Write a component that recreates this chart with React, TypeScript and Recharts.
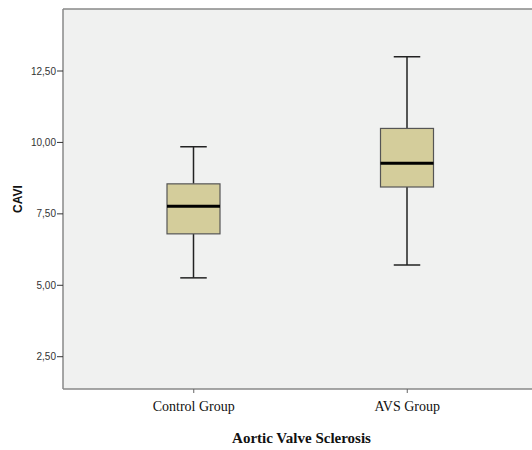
import React from 'react'
import { Bar, CartesianGrid, ComposedChart, Label, ReferenceLine, XAxis, YAxis } from 'recharts'

const groups = ['Control Group', 'AVS Group']
const minVals = [5.26, 5.71]
const q1Vals = [6.8, 8.44]
const medianVals = [7.77, 9.27]
const q3Vals = [8.55, 10.49]
const maxVals = [9.85, 13.0]
const yTicks = [2.5, 5, 7.5, 10, 12.5]

const data = groups.map((g, i) => ({
  name: g,
  min: minVals[i],
  q1: q1Vals[i],
  median: medianVals[i],
  q3: q3Vals[i],
  max: maxVals[i],
  box: [q1Vals[i], q3Vals[i]],
}))

const BoxShape = (props: any) => {
  const { x, y, width, height, payload } = props
  const ppu = height / (payload.q3 - payload.q1)
  const toY = (v: number) => y + (payload.q3 - v) * ppu
  const cx = x + width / 2
  const cap = width / 4
  return (
    <g>
      <line x1={cx} x2={cx} y1={toY(payload.max)} y2={y} stroke="#222" strokeWidth={1.5} />
      <line x1={cx} x2={cx} y1={y + height} y2={toY(payload.min)} stroke="#222" strokeWidth={1.5} />
      <line x1={cx - cap} x2={cx + cap} y1={toY(payload.max)} y2={toY(payload.max)} stroke="#222" strokeWidth={1.5} />
      <line x1={cx - cap} x2={cx + cap} y1={toY(payload.min)} y2={toY(payload.min)} stroke="#222" strokeWidth={1.5} />
      <rect x={x} y={y} width={width} height={height} fill="#d4cd9b" stroke="#555" strokeWidth={1.2} />
      <line x1={x} x2={x + width} y1={toY(payload.median)} y2={toY(payload.median)} stroke="#000" strokeWidth={3} />
    </g>
  )
}

const App: React.FC = () => {
  return (
    <div style={{ position: 'absolute', left: 0, top: 0, width: 532, height: 450, overflow: 'hidden', background: '#fff' }}>
      <ComposedChart width={540} height={450} data={data} margin={{ top: 9, right: 0, bottom: 0, left: 0 }}>
        <CartesianGrid fill="#f0f1f0" horizontal={false} vertical={false} />
        <ReferenceLine y={14.67} stroke="#888" strokeWidth={1.5} />
        <XAxis
          dataKey="name"
          height={61}
          padding={{ left: 24, right: 26 }}
          axisLine={{ stroke: '#888', strokeWidth: 1.5 }}
          tickLine={{ stroke: '#666' }}
          tickSize={4}
          tickMargin={8}
          tick={{ fill: '#111', fontSize: 14, fontFamily: '"Liberation Serif", "Times New Roman", serif' }}
        >
          <Label
            value="Aortic Valve Sclerosis"
            position="insideBottom"
            offset={7}
            style={{ fill: '#111', fontSize: 15, fontWeight: 'bold', fontFamily: '"Liberation Serif", "Times New Roman", serif' }}
          />
        </XAxis>
        <YAxis
          width={63}
          domain={[1.37, 14.67]}
          ticks={yTicks}
          allowDataOverflow
          tickFormatter={(v: number) => v.toFixed(2).replace('.', ',')}
          axisLine={{ stroke: '#888', strokeWidth: 1.5 }}
          tickLine={{ stroke: '#333' }}
          tickSize={6}
          tickMargin={1}
          tick={{ fill: '#333', fontSize: 10, fontFamily: '"Liberation Sans", Arial, sans-serif' }}
        >
          <Label
            value="CAVI"
            angle={-90}
            position="insideLeft"
            offset={18}
            style={{ fill: '#111', fontSize: 12, fontWeight: 'bold', textAnchor: 'middle', fontFamily: '"Liberation Sans", Arial, sans-serif' }}
          />
        </YAxis>
        <Bar dataKey="box" barSize={53} shape={BoxShape} isAnimationActive={false} />
      </ComposedChart>
    </div>
  )
}

export default App
